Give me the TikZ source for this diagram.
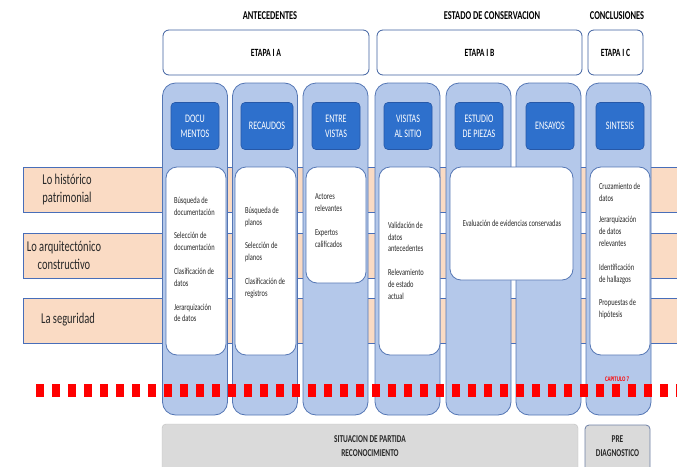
\documentclass[tikz,border=0pt]{standalone}
\usepackage{fontspec}
\setmainfont{Carlito}[FakeStretch=0.7]
\definecolor{colfill}{RGB}{180,200,234}
\definecolor{colline}{RGB}{84,118,180}
\definecolor{topicfill}{RGB}{46,112,204}
\definecolor{topicline}{RGB}{38,88,168}
\definecolor{bandfill}{RGB}{250,219,196}
\definecolor{bandline}{RGB}{72,110,185}
\definecolor{stageline}{RGB}{62,96,160}
\definecolor{basefill}{RGB}{218,218,218}
\definecolor{baseline}{RGB}{110,128,165}
\definecolor{bodytext}{RGB}{40,40,40}
\begin{document}
\begin{tikzpicture}[x=1pt,y=-1pt,
  every node/.style={inner sep=0pt, outer sep=0pt},
  header/.style={font=\fontsize{12}{13}\selectfont\bfseries},
  stage/.style={draw=stageline, line width=0.8pt, fill=white, rounded corners=6pt,
    minimum height=45pt, font=\fontsize{11}{13}\selectfont\bfseries},
  column/.style={draw=colline, line width=0.8pt, fill=colfill, rounded corners=13pt,
    minimum width=65pt, minimum height=332pt},
  topic/.style={draw=topicline, line width=0.6pt, fill=topicfill, rounded corners=4pt,
    minimum width=48pt, minimum height=47pt, text=white, align=center,
    font=\fontsize{11.5}{15}\selectfont},
  card/.style={draw=colline, line width=0.8pt, fill=white, rounded corners=11pt},
  cardtext/.style={anchor=north west, align=left, text=bodytext,
    font=\fontsize{9.2}{11.8}\selectfont},
  band/.style={draw=bandline, line width=0.8pt, fill=bandfill, minimum height=45pt},
  bandtext/.style={align=center, text=bodytext, font=\fontsize{15}{18}\selectfont},
  chapterline/.style={draw=red, line width=13pt, dash pattern=on 8pt off 8pt},
  basebox/.style={rounded corners=4pt, align=center,
    font=\fontsize{10.5}{14}\selectfont\bfseries, text=bodytext}
]
\useasboundingbox (0,0) rectangle (677,466);

% thematic bands running behind the columns
\node[band, minimum width=670pt, anchor=west] (b1) at (23,190) {};
\node[band, minimum width=670pt, anchor=west] (b2) at (23,255.5) {};
\node[band, minimum width=670pt, anchor=west] (b3) at (23,320.5) {};
\node[bandtext] (b1t) at (67,189) {Lo histórico\\patrimonial};
\node[bandtext] (b2t) at (64,255) {Lo arquitectónico\\constructivo};
\node[bandtext] (b3t) at (68,320) {La seguridad};

% section headers
\node[header] (h1) at (270,16) {ANTECEDENTES};
\node[header] (h2) at (492,16) {ESTADO DE CONSERVACION};
\node[header] (h3) at (617,16) {CONCLUSIONES};

% stages
\node[stage, minimum width=206pt] (sA) at (266,52.5) {ETAPA I A};
\node[stage, minimum width=205pt] (sB) at (479.5,52.5) {ETAPA I B};
\node[stage, minimum width=55pt] (sC) at (615.5,52.5) {ETAPA I C};

% activity columns
\node[column] (c1) at (195,249) {};
\node[column] (c2) at (265,249) {};
\node[column] (c3) at (335.5,249) {};
\node[column] (c4) at (407.5,249) {};
\node[column] (c5) at (478.5,249) {};
\node[column] (c6) at (548.5,249) {};
\node[column] (c7) at (618.5,249) {};

% column titles
\node[topic] (t1) at (195,126) {DOCU\\MENTOS};
\node[topic, minimum width=52pt] (t2) at (267,126) {RECAUDOS};
\node[topic] (t3) at (336,126) {ENTRE\\VISTAS};
\node[topic] (t4) at (408,126) {VISITAS\\AL SITIO};
\node[topic] (t5) at (479,126) {ESTUDIO\\DE PIEZAS};
\node[topic] (t6) at (550,126) {ENSAYOS};
\node[topic] (t7) at (620,126) {SINTESIS};

% task cards
\node[card, minimum width=60pt, minimum height=188pt] (k1) at (196,261) {};
\node[card, minimum width=61pt, minimum height=188pt] (k2) at (265.5,261) {};
\node[card, minimum width=60pt, minimum height=116pt] (k3) at (336,225) {};
\node[card, minimum width=61pt, minimum height=188pt] (k4) at (409.5,261) {};
\node[card, minimum width=123pt, minimum height=113pt] (k5) at (511.5,223.5) {};
\node[card, minimum width=60pt, minimum height=188pt] (k7) at (620,261) {};

\node[cardtext] (k1t) at (174,197) {Búsqueda de\\documentación\\[12pt]Selección de\\documentación\\[12pt]Clasificación de\\datos\\[12pt]Jerarquización\\de datos};
\node[cardtext] (k2t) at (245,207) {Búsqueda de\\planos\\[12pt]Selección de\\planos\\[12pt]Clasificación de\\registros};
\node[cardtext] (k3t) at (315,194) {Actores\\relevantes\\[12pt]Expertos\\calificados};
\node[cardtext] (k4t) at (388,222) {Validación de\\datos\\antecedentes\\[12pt]Relevamiento\\de estado\\actual};
\node[text=bodytext, font=\fontsize{9.2}{11.8}\selectfont] (k5t) at (512,223) {Evaluación de evidencias conservadas};
\node[cardtext] (k7t) at (599,183) {Cruzamiento de\\datos\\[10pt]Jerarquización\\de datos\\relevantes\\[12pt]Identificación\\de hallazgos\\[12pt]Propuestas de\\hipótesis};

% chapter boundary
\coordinate (cutL) at (36,390);
\coordinate (cutR) at (690,390);
\draw[chapterline] (cutL) -- (cutR);
\node[text=red, font=\fontsize{7}{8}\selectfont\bfseries] (cap) at (617,379) {CAPITULO 7};

% outcome boxes
\node[basebox, fill=basefill, draw=basefill!88!black, line width=0.4pt,
  minimum width=416pt, minimum height=50pt, anchor=north] (o1) at (370,424) {};
\node[basebox, fill=basefill, draw=baseline, line width=0.8pt,
  minimum width=65pt, minimum height=50pt, anchor=north] (o2) at (617.5,425) {};
\node[basebox] (o1t) at (370,446) {SITUACION DE PARTIDA\\RECONOCIMIENTO};
\node[basebox] (o2t) at (617.5,446) {PRE\\DIAGNOSTICO};
\end{tikzpicture}
\end{document}
